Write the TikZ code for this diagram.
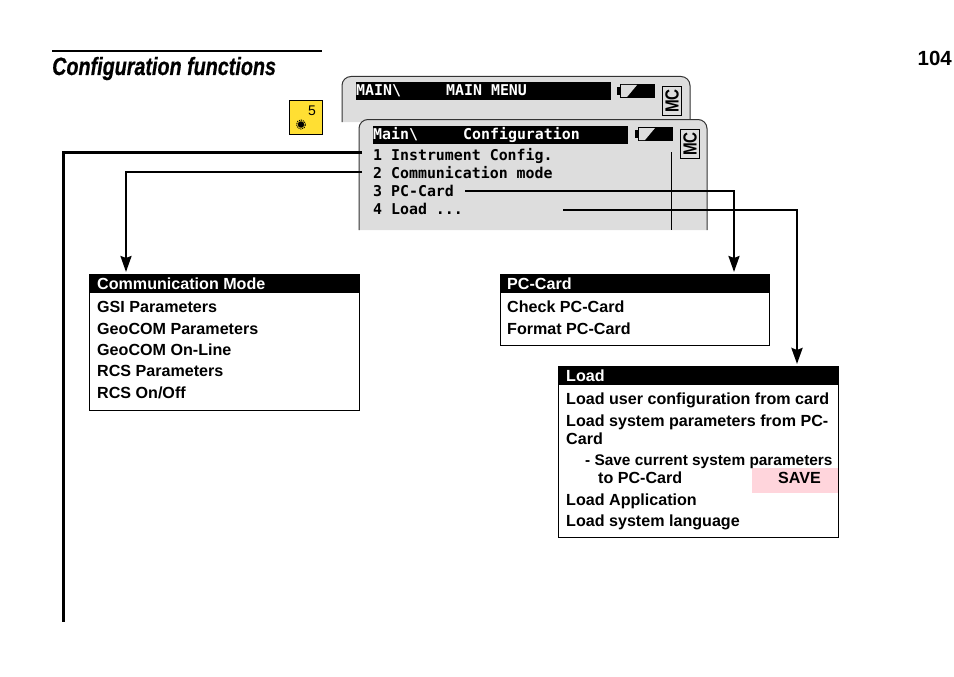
\documentclass[tikz,border=0pt]{standalone}
\usepackage{fontspec}
\setmainfont{Liberation Sans}
\setmonofont{DejaVu Sans Mono}
\newfontfamily\titlefont[FakeStretch=0.79,FakeBold=0.6]{Liberation Sans}
\newfontfamily\mcfont[FakeStretch=0.8]{Liberation Sans}
\usetikzlibrary{arrows.meta,positioning}
\definecolor{screengray}{HTML}{DDDDDD}
\definecolor{keyyellow}{HTML}{FFDF33}
\definecolor{savepink}{HTML}{FFD5DC}

\begin{document}
\begin{tikzpicture}[
      x=1pt,y=-1pt,
      screen/.style={draw=black!80,line width=1pt,fill=screengray,rounded corners=9pt},
      titlebar/.style={fill=black,anchor=north west,inner sep=0pt,minimum width=255pt,minimum height=18pt},
      monotext/.style={font=\ttfamily\bfseries\fontsize{14.9}{15}\selectfont,anchor=base west,inner sep=0pt},
      monotitle/.style={monotext,text=white},
      mcbox/.style={draw,line width=1.2pt,fill=screengray,anchor=north west,inner sep=0pt,minimum width=19pt,minimum height=29pt},
      mctext/.style={rotate=90,font=\mcfont\bfseries\fontsize{19}{19}\selectfont,inner sep=0pt},
      batterybox/.style={fill=black,anchor=north west,inner sep=0pt,minimum width=35pt,minimum height=14pt},
      menubox/.style={draw,line width=1pt,fill=white,anchor=north west,inner sep=0pt},
      headbar/.style={fill=black,anchor=north west,inner sep=0pt,minimum height=19pt},
      headtext/.style={itemtext,text=white},
      itemtext/.style={font=\bfseries\fontsize{16.1}{18}\selectfont,anchor=base west,inner sep=0pt,align=left},
      conn/.style={line width=2.2pt},
      arr/.style={conn,-{Stealth[length=16pt,width=11pt,inset=2pt]},shorten >=2pt}
    ]
    \useasboundingbox (0,0) rectangle (954,677);
    % heading
    \node[font=\titlefont\bfseries\itshape\fontsize{25}{26}\selectfont,anchor=base west,inner sep=0pt] (heading) at (52,75) {Configuration functions};
    \node[font=\bfseries\fontsize{20.5}{20}\selectfont,anchor=base east,inner sep=0pt] (pagenum) at (952,66) {104};
    \coordinate (ruleleft) at (52,51);
    \coordinate (ruleright) at (322,51);
    \draw[line width=2pt] (ruleleft) -- (ruleright);
    % key
    \node[draw,line width=1pt,fill=keyyellow,anchor=north west,inner sep=0pt,minimum width=33pt,minimum height=33pt] (key) at (289,100.5) {};
    \node[font=\fontsize{14}{14}\selectfont,inner sep=0pt] (keynum) at (312,110.5) {5};
    \node[circle,draw=black,densely dotted,line width=1pt,inner sep=0pt,minimum size=9pt] (keyring) at (301,124.5) {};
    \node[circle,fill=black,inner sep=0pt,minimum size=6.5pt] (keydot) at (keyring) {};
    % back screen
    \fill[screengray] (342,122) -- (342,85) -- (345,79) -- (351,76.5) -- (681,76.5) -- (687,79) -- (690,85) -- (690,122) -- cycle;
    \draw[draw=black!80,line width=1pt,rounded corners=9pt] (342,122) -- (342,76.5) -- (690,76.5) -- (690,122);
    \node[titlebar] (backbar) at (356,82) {};
    \node[monotitle] (backpath) at (356,95.5) {MAIN\textbackslash};
    \node[monotitle] (backtitle) at (446,95.5) {MAIN MENU};
    \node[batterybox] (backbatt) at (620,84) {};
    \fill[black] (617,87) rectangle (620,95);
    \fill[screengray] (621,85) -- (637,85) -- (627,97) -- (621,97) -- cycle;
    \node[mcbox] (backmc) at (662,86) {};
    \node[mctext] (backmctext) at (backmc.center) {MC};
    % front screen
    \draw[screen] (359,230) -- (359,119.5) -- (707,119.5) -- (707,230);
    \node[titlebar] (frontbar) at (373,125.5) {};
    \node[monotitle] (frontpath) at (373,139.5) {Main\textbackslash};
    \node[monotitle] (fronttitle) at (463,139.5) {Configuration};
    \node[batterybox] (frontbatt) at (638,127) {};
    \fill[black] (635,130) rectangle (638,138);
    \fill[screengray] (639,128) -- (655,128) -- (645,140) -- (639,140) -- cycle;
    \node[mcbox] (frontmc) at (680,129) {};
    \node[mctext] (frontmctext) at (frontmc.center) {MC};
    \coordinate (sbartop) at (671,152);
    \coordinate (sbarbot) at (671,230);
    \draw[line width=0.8pt] (sbartop) -- (sbarbot);
    \node[monotext] (line1) at (373,160) {1 Instrument Config.};
    \node[monotext] (line2) at (373,178) {2 Communication mode};
    \node[monotext] (line3) at (373,196) {3 PC-Card};
    \node[monotext] (line4) at (373,214) {4 Load ...};
    % communication mode
    \node[menubox,minimum width=270pt,minimum height=135.5pt] (commbox) at (88.5,274) {};
    \node[headbar,minimum width=270pt] (commhead) at (88.5,274) {};
    \node[headtext] (commtitle) at (97,289) {Communication Mode};
    \node[itemtext] (gsi) at (97,312) {GSI Parameters};
    \node[itemtext] (geocom) at (97,334) {GeoCOM Parameters};
    \node[itemtext] (online) at (97,355) {GeoCOM On-Line};
    \node[itemtext] (rcspar) at (97,376) {RCS Parameters};
    \node[itemtext] (rcsonoff) at (97,398) {RCS On/Off};
    % pc card
    \node[menubox,minimum width=269.5pt,minimum height=70.5pt] (pcbox) at (499.5,274) {};
    \node[headbar,minimum width=269.5pt] (pchead) at (499.5,274) {};
    \node[headtext] (pctitle) at (507,289) {PC-Card};
    \node[itemtext] (checkpc) at (507,312) {Check PC-Card};
    \node[itemtext] (formatpc) at (507,334) {Format PC-Card};
    % load
    \node[menubox,minimum width=280pt,minimum height=170.5pt] (loadbox) at (557.5,366) {};
    \node[headbar,minimum width=280pt] (loadhead) at (557.5,366) {};
    \node[headtext] (loadtitle) at (566,381) {Load};
    \node[itemtext] (loaduser) at (566,404) {Load user configuration from card};
    \node[itemtext] (loadsys) at (566,426) {Load system parameters from PC-};
    \node[itemtext] (loadcard) at (566,444) {Card};
    \node[fill=savepink,anchor=north west,inner sep=0pt,minimum width=86pt,minimum height=25pt] (savebg) at (752,468) {};
    \node[itemtext,font=\bfseries\fontsize{15.4}{18}\selectfont] (savesys) at (585,465) {- Save current system parameters};
    \node[itemtext] (savecard) at (598,483) {to PC-Card};
    \node[itemtext] (savekey) at (778,483) {SAVE};
    \node[itemtext] (loadapp) at (566,505) {Load Application};
    \node[itemtext] (loadlang) at (566,526) {Load system language};
    % connectors
    \coordinate (from1) at (362,152);
    \coordinate (from2) at (362,172);
    \coordinate (from3) at (465,191);
    \coordinate (from4) at (563,210);
    \coordinate (trunkend) at (63,622);
    \draw[conn,line width=3pt] (from1) -| (trunkend);
    \draw[arr] (from2) -| ([xshift=37.5pt]commbox.north west);
    \draw[arr] (from3) -| ([xshift=234.5pt]pcbox.north west);
    \draw[arr,line width=2.8pt] (from4) -| ([xshift=239.5pt]loadbox.north west);
  \end{tikzpicture}
\end{document}
